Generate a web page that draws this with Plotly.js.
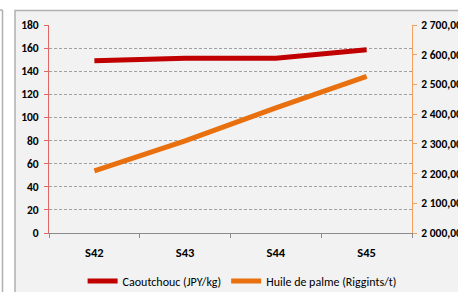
<!DOCTYPE html>
<html>
<head>
<meta charset="utf-8">
<script src="https://cdn.plot.ly/plotly-3.0.1.min.js"></script>
<style>
html,body{margin:0;padding:0;background:#fff;}
#chart{width:458px;height:292px;}
</style>
</head>
<body>
<div id="chart"></div>
<script>
var categories = ["S42", "S43", "S44", "S45"];
var caoutchouc = [149, 151.2, 151.2, 158.6];
var huilePalme = [2209, 2310, 2421, 2527];
var seriesNames = ["Caoutchouc (JPY/kg)", "Huile de palme (Riggints/t)"];
var leftTicks = [0, 20, 40, 60, 80, 100, 120, 140, 160, 180];
var rightTicks = [2000, 2100, 2200, 2300, 2400, 2500, 2600, 2700];

var FONT = "Carlito, 'Liberation Sans Narrow', 'DejaVu Sans Condensed', sans-serif";

var traces = [
  {
    x: categories, y: caoutchouc, name: seriesNames[0], type: "scatter", mode: "lines",
    line: {color: "#c00000", width: 5}, yaxis: "y"
  },
  {
    x: categories, y: huilePalme, name: seriesNames[1], type: "scatter", mode: "lines",
    line: {color: "#e8700e", width: 5}, yaxis: "y2"
  }
];

var layout = {
  width: 458, height: 292,
  margin: {l: 49, r: 46, t: 25, b: 59, pad: 0},
  paper_bgcolor: "#ffffff",
  plot_bgcolor: "rgba(0,0,0,0)",
  separators: ", ",
  font: {family: FONT, size: 10, color: "#000"},
  showlegend: true,
  legend: {
    orientation: "h", x: 0.532, xanchor: "center",
    yref: "container", y: (292 - 281) / 292, yanchor: "middle",
    font: {family: FONT, size: 12, color: "#000"},
    bgcolor: "rgba(0,0,0,0)", itemwidth: 30, tracegroupgap: 0
  },
  xaxis: {
    type: "category", range: [-0.5, 3.5], automargin: false,
    showline: true, linecolor: "#8c8c8c", linewidth: 1,
    ticks: "outside", ticklen: 4, tickcolor: "#8c8c8c", tickson: "boundaries",
    showgrid: false, zeroline: false,
    tickfont: {family: FONT, size: 12.5, color: "#000", weight: "bold"},
    ticklabelstandoff: 8
  },
  yaxis: {
    range: [0, 180], tickvals: leftTicks, automargin: false,
    showline: true, linecolor: "#e06666", linewidth: 1,
    ticks: "outside", ticklen: 4, tickcolor: "#e06666",
    showgrid: true, gridcolor: "#a0a0a0", gridwidth: 1, griddash: "3px,2px",
    zeroline: false,
    tickfont: {family: FONT, size: 11.5, color: "#000", weight: "bold"},
    ticklabelstandoff: 3
  },
  yaxis2: {
    overlaying: "y", side: "right", automargin: false,
    range: [2000, 2700], tickvals: rightTicks, tickformat: ",.2f",
    showline: true, linecolor: "#f5a05a", linewidth: 1,
    ticks: "outside", ticklen: 4, tickcolor: "#f5a05a",
    showgrid: false, zeroline: false,
    tickfont: {family: FONT, size: 11.5, color: "#000", weight: "bold"},
    ticklabelstandoff: 2
  },
  shapes: [
    {type: "rect", xref: "paper", yref: "paper", layer: "below",
     x0: (15 - 49) / 363, x1: (470 - 49) / 363, y0: (233 - 300) / 208, y1: (233 - 10.5) / 208,
     fillcolor: "#f2f2f2", line: {color: "#b0b0b0", width: 1.5}},
    {type: "line", xref: "paper", yref: "paper", layer: "below",
     x0: (2.5 - 49) / 363, x1: (2.5 - 49) / 363, y0: (233 - 300) / 208, y1: (233 - 10) / 208,
     line: {color: "#b0b0b0", width: 1.5}},
    {type: "line", xref: "paper", yref: "paper", layer: "below",
     x0: (-5 - 49) / 363, x1: (2.5 - 49) / 363, y0: (233 - 10) / 208, y1: (233 - 10) / 208,
     line: {color: "#b0b0b0", width: 1.5}}
  ]
};

Plotly.newPlot("chart", traces, layout, {staticPlot: true, displayModeBar: false});
</script>
</body>
</html>
